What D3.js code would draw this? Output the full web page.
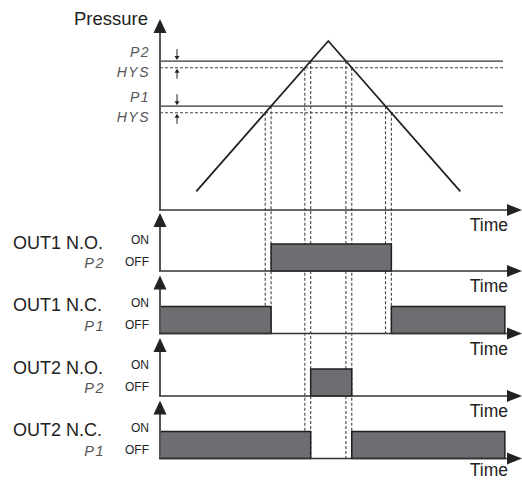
<!DOCTYPE html>
<html>
<head>
<meta charset="utf-8">
<script src="https://cdn.jsdelivr.net/npm/d3@7"></script>
<style>
  body { margin: 0; background: #fff; }
  text { font-family: "Liberation Sans", Arial, sans-serif; fill: #222; }
  .seg { font-style: italic; fill: #555; letter-spacing: 1.5px; }
</style>
</head>
<body>
<div id="chart"></div>
<script>
// pressure curve (time, pressure)
const pressureTimes = [1.1, 5.1, 9.1];
const pressureValues = [10, 100, 10];

// set points and hysteresis
const pointNames = ["P2", "P1"];
const pointValues = [88, 61];
const hysValues = [4, 4];

// outputs
const outputNames = ["OUT1 N.O.", "OUT1 N.C.", "OUT2 N.O.", "OUT2 N.C."];
const outputSubs = ["P2", "P1", "P2", "P1"];
const outputSource = [1, 1, 0, 0]; // index into pointValues
const outputNC = [false, true, false, true];
const stateLabels = ["ON", "OFF"];
const timeEnd = 10.45;

const W = 522, H = 480;
const x0 = 160, xTip = 522;
const mainBase = 210;
const panelBase = i => 271 + i * 62.5;
const onH = 27;

const x = d3.scaleLinear().domain([0, 10.5]).range([160, 506.5]);
const y = d3.scaleLinear().domain([0, 100]).range([208, 41]);

const svg = d3.select("#chart").append("svg")
  .attr("width", W).attr("height", H);

// time at which the curve crosses a level, going up or down
function crossing(level, up) {
  for (let i = 0; i < pressureTimes.length - 1; i++) {
    const p0 = pressureValues[i], p1 = pressureValues[i + 1];
    if ((up && p0 < level && p1 >= level) || (!up && p0 > level && p1 <= level)) {
      const k = (level - p0) / (p1 - p0);
      return pressureTimes[i] + k * (pressureTimes[i + 1] - pressureTimes[i]);
    }
  }
  return null;
}

const gGuide = svg.append("g");
const gMarks = svg.append("g");
const gAxes = svg.append("g");
const gText = svg.append("g");

function drawAxes(base, top) {
  gAxes.append("line")
    .attr("x1", x0).attr("x2", x0).attr("y1", base).attr("y2", top + 12)
    .attr("stroke", "#555").attr("stroke-width", 2);
  gAxes.append("polygon")
    .attr("points", [[x0, top], [x0 - 6.5, top + 14], [x0 + 6.5, top + 14]].join(" "))
    .attr("fill", "#222");
  gAxes.append("line")
    .attr("x1", x0 - 1).attr("x2", xTip - 14).attr("y1", base).attr("y2", base)
    .attr("stroke", "#333").attr("stroke-width", 1.6);
  gAxes.append("polygon")
    .attr("points", [[xTip, base], [xTip - 15, base - 6], [xTip - 15, base + 6]].join(" "))
    .attr("fill", "#222");
  gText.append("text")
    .attr("x", 508).attr("y", Math.min(base + 21, 475.5))
    .attr("text-anchor", "end").attr("font-size", 17.5)
    .text("Time");
}

// ---- main pressure chart ----
drawAxes(mainBase, 19);
gText.append("text")
  .attr("x", 148).attr("y", 24.5).attr("text-anchor", "end")
  .attr("font-size", 18.5).text("Pressure");

pointValues.forEach((pv, k) => {
  const lo = pv - hysValues[k];
  gMarks.append("line")
    .attr("x1", x0).attr("x2", 503).attr("y1", y(pv)).attr("y2", y(pv))
    .attr("stroke", "#333").attr("stroke-width", 1.3);
  gMarks.append("line")
    .attr("x1", x0).attr("x2", 503).attr("y1", y(lo)).attr("y2", y(lo))
    .attr("stroke", "#444").attr("stroke-width", 1.1).attr("stroke-dasharray", "3,2");

  gText.append("text").attr("class", "seg")
    .attr("x", 150).attr("y", y(pv) - 4).attr("text-anchor", "end")
    .attr("font-size", 14).text(pointNames[k]);
  gText.append("text").attr("class", "seg")
    .attr("x", 150).attr("y", y(lo) + 9.5).attr("text-anchor", "end")
    .attr("font-size", 14).text("HYS");

  // small hysteresis arrows
  const ax = 177;
  gMarks.append("line").attr("x1", ax).attr("x2", ax)
    .attr("y1", y(pv) - 12).attr("y2", y(pv) - 4).attr("stroke", "#222");
  gMarks.append("polygon")
    .attr("points", [[ax - 2.5, y(pv) - 5], [ax + 2.5, y(pv) - 5], [ax, y(pv) - 1]].join(" "))
    .attr("fill", "#222");
  gMarks.append("line").attr("x1", ax).attr("x2", ax)
    .attr("y1", y(lo) + 4).attr("y2", y(lo) + 11).attr("stroke", "#222");
  gMarks.append("polygon")
    .attr("points", [[ax - 2.5, y(lo) + 5], [ax + 2.5, y(lo) + 5], [ax, y(lo) + 1]].join(" "))
    .attr("fill", "#222");

  // vertical guides down to the last panel that uses this set point
  const last = d3.max(outputSource.map((s, i) => (s === k ? i : -1)));
  const bottom = panelBase(last);
  [[lo, true], [pv, true], [pv, false], [lo, false]].forEach(([lvl, up]) => {
    const t = crossing(lvl, up);
    gGuide.append("line")
      .attr("x1", x(t)).attr("x2", x(t)).attr("y1", y(lvl)).attr("y2", bottom)
      .attr("stroke", "#444").attr("stroke-width", 1.1).attr("stroke-dasharray", "3,2");
  });
});

const pressureLine = d3.line().x(d => x(d[0])).y(d => y(d[1]));
gMarks.append("path")
  .datum(pressureTimes.map((t, i) => [t, pressureValues[i]]))
  .attr("d", pressureLine)
  .attr("fill", "none").attr("stroke", "#222").attr("stroke-width", 1.8);

// ---- output panels ----
outputNames.forEach((name, i) => {
  const B = panelBase(i);
  const k = outputSource[i];
  const pv = pointValues[k], lo = pv - hysValues[k];
  const tOn = crossing(pv, true), tOff = crossing(lo, false);
  const spans = outputNC[i] ? [[0, tOn], [tOff, timeEnd]] : [[tOn, tOff]];

  gMarks.selectAll(null)
    .data(spans)
    .join("rect")
    .attr("x", d => x(d[0]))
    .attr("y", B - onH)
    .attr("width", d => x(d[1]) - x(d[0]))
    .attr("height", onH)
    .attr("fill", "#6d6e71").attr("stroke", "#231f20").attr("stroke-width", 1.5);

  drawAxes(B, B - 58);

  gText.append("text").attr("x", 13).attr("y", B - 22.5)
    .attr("font-size", 18).text(name);
  gText.append("text").attr("class", "seg")
    .attr("x", 105).attr("y", B - 3).attr("text-anchor", "end")
    .attr("font-size", 14.5).text(outputSubs[i]);
  gText.append("text").attr("x", 149).attr("y", B - 26.7)
    .attr("text-anchor", "end").attr("font-size", 12).text(stateLabels[0]);
  gText.append("text").attr("x", 149).attr("y", B - 4.7)
    .attr("text-anchor", "end").attr("font-size", 12).text(stateLabels[1]);
});
</script>
</body>
</html>
